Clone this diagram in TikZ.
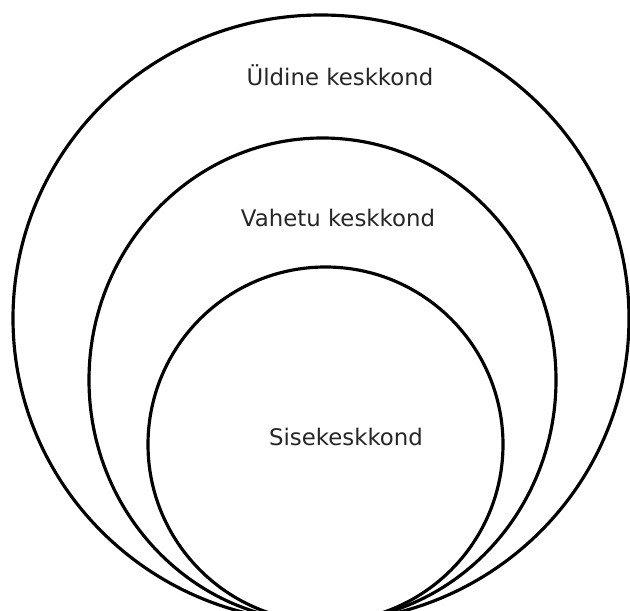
\documentclass[tikz,border=0pt]{standalone}
\usepackage{fontspec}
\setmainfont{DejaVu Sans}
\usepackage{tikz}

\begin{document}
\begin{tikzpicture}[x=0.02cm, y=-0.02cm, ring/.style={line width=1.8pt}, label/.style={font=\fontsize{13}{15}\selectfont, text=black!85}]
    \useasboundingbox (0,0) rectangle (630,611);
    \clip (0,0) rectangle (630,611);

    \draw[ring] (321,318.5) ellipse (308 and 303.5);
    \draw[ring] (322.5,380) ellipse (233.5 and 242);
    \draw[ring] (325.5,444.5) ellipse (177.5 and 177.5);

    \node[label] (yldine) at (340,75) {Üldine keskkond};
    \node[label] (vahetu) at (338,218) {Vahetu keskkond};
    \node[label] (sise) at (346,437) {Sisekeskkond};
\end{tikzpicture}
\end{document}
